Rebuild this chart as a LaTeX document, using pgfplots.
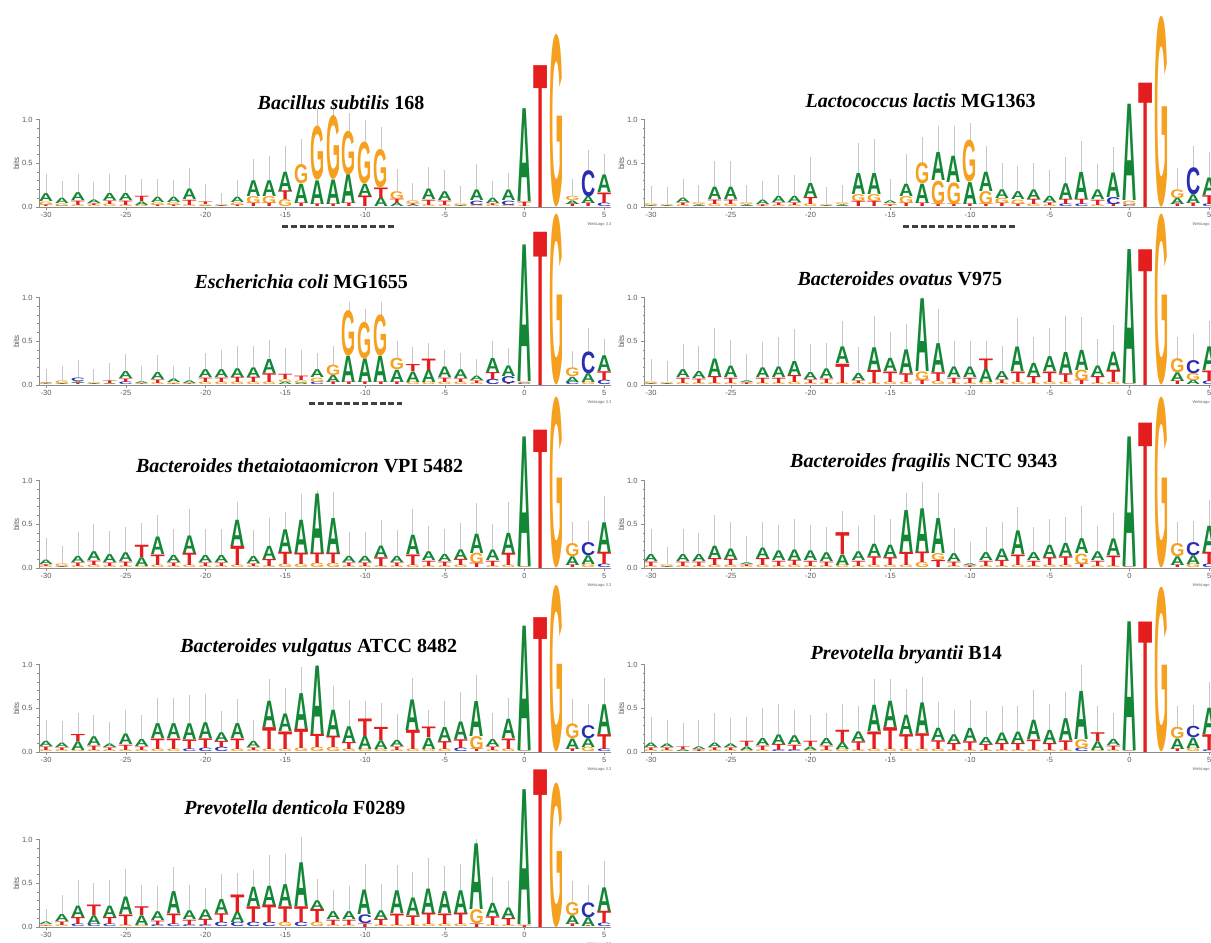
\documentclass[border=0pt]{standalone}
\usepackage{fontspec}
\setmainfont{Liberation Serif}
\setsansfont{Liberation Sans}
\newfontfamily\logofont{Liberation Sans}
\usepackage{graphicx}
\usepackage{pgfplots}
\usepackage{pgfplotstable}
\pgfplotsset{compat=1.18}
\definecolor{nucA}{RGB}{20,135,55}
\definecolor{nucC}{RGB}{40,45,180}
\definecolor{nucG}{RGB}{245,160,30}
\definecolor{nucT}{RGB}{228,30,30}
\definecolor{axgray}{RGB}{140,140,140}

\pgfdeclareplotmark{logoletter}{%
  \pgfmathsetmacro\lh{\hval*87.5}%
  \ifdim\lh pt>0.3pt\relax
    \pgftext[bottom]{\resizebox*{14.2pt}{\lh pt}{\textcolor{nuc\letval}{\logofont\bfseries\letval}}}%
  \fi}

\pgfplotsset{
  logo/.style={
    x=15.95pt, y=87.5pt, xmin=-30.44, xmax=5.4, ymin=0, ymax=1,
    anchor=south west, clip=false,
    axis lines*=left,
    axis line style={axgray, line width=0.6pt},
    xtick={-30,-25,...,5}, xticklabels={-30,-25,-20,-15,-10,-5,0,5},
    minor xtick={-30,-29,...,5},
    ytick={0,0.5,1}, yticklabels={0.0,0.5,1.0}, minor ytick={0.1,0.2,0.3,0.4,0.6,0.7,0.8,0.9},
    tick align=outside, major tick length=3pt, minor tick length=1.5pt,
    tick style={axgray, line width=0.5pt},
    tick label style={font=\sffamily\fontsize{7.5}{8}\selectfont, text=black!65},
    xticklabel style={yshift=1pt},
    ylabel={bits}, ylabel style={font=\sffamily\fontsize{8}{8}\selectfont, text=black!65, yshift=-4pt},
  },
  lay/.style={scatter, only marks, mark=logoletter, forget plot,
    point meta=explicit symbolic,
    scatter/@pre marker code/.code={\edef\letval{\pgfplotspointmeta}},
    scatter/@post marker code/.code={}},
}

\newcommand\logopanel[7]{%
\begin{axis}[logo, at={(#1pt,#2pt)}]
  \addplot[draw=none, mark=none, forget plot,
    error bars/.cd, y dir=plus, y explicit, error mark=none,
    error bar style={black!22, line width=0.8pt}]
    table[x=x, y expr=\thisrow{h1}+\thisrow{h2}+\thisrow{h3}, y error=e]{#3};
  \addplot[lay, visualization depends on={\thisrow{h1} \as \hval}]
    table[x=x, y expr=0, meta=l1]{#3};
  \addplot[lay, visualization depends on={\thisrow{h2} \as \hval}]
    table[x=x, y expr=\thisrow{h1}, meta=l2]{#3};
  \addplot[lay, visualization depends on={\thisrow{h3} \as \hval}]
    table[x=x, y expr=\thisrow{h1}+\thisrow{h2}, meta=l3]{#3};
  \node[font=\fontsize{20}{22}\selectfont\bfseries] at (axis cs:#4,#5) {#6};
  \node[font=\sffamily\fontsize{4}{4}\selectfont, text=black!60] at (axis cs:4.7,-0.2) {WebLogo 3.3};
  #7
\end{axis}}

% columns: position, bottom letter/height, middle, top, error bar length
\pgfplotstableread{
x l1 h1 l2 h2 l3 h3 e
-30 T 0.02 G 0.04 A 0.09 0.23
-29 C 0.01 G 0.03 A 0.06 0.20
-28 G 0.02 T 0.05 A 0.09 0.22
-27 G 0.02 T 0.02 A 0.04 0.20
-26 G 0.03 T 0.04 A 0.08 0.23
-25 G 0.02 T 0.05 A 0.08 0.22
-24 G 0.02 A 0.04 T 0.06 0.20
-23 T 0.02 G 0.03 A 0.06 0.21
-22 T 0.02 G 0.03 A 0.06 0.20
-21 G 0.02 T 0.06 A 0.12 0.24
-20 A 0.01 G 0.02 T 0.03 0.20
-19 A 0.01 T 0.01 G 0.01 0.13
-18 T 0.02 G 0.03 A 0.06 0.20
-17 T 0.04 G 0.08 A 0.18 0.25
-16 T 0.04 G 0.08 A 0.18 0.28
-15 G 0.08 T 0.10 A 0.22 0.30
-14 T 0.04 A 0.22 G 0.22 0.30
-13 T 0.03 A 0.27 G 0.62 0.20
-12 T 0.03 A 0.28 G 0.73 0.15
-11 T 0.04 A 0.33 G 0.50 0.20
-10 T 0.12 A 0.14 G 0.48 0.25
-9 A 0.10 T 0.12 G 0.44 0.25
-8 A 0.04 T 0.05 G 0.09 0.25
-7 A 0.02 T 0.02 G 0.03 0.20
-6 G 0.02 T 0.06 A 0.12 0.26
-5 G 0.02 T 0.05 A 0.10 0.25
-4 T 0.01 A 0.01 G 0.02 0.20
-3 G 0.02 C 0.05 A 0.12 0.30
-2 G 0.02 T 0.02 A 0.06 0.20
-1 G 0.02 C 0.05 A 0.12 0.20
0 G 0.01 T 0.05 A 1.06 0
1 A 0 G 0 T 1.62 0
2 A 0 T 0 G 1.97 0
3 T 0.03 A 0.04 G 0.05 0.20
4 T 0.04 A 0.08 C 0.30 0.23
5 C 0.04 T 0.12 A 0.20 0.25
}\bsub

\pgfplotstableread{
x l1 h1 l2 h2 l3 h3 e
-30 T 0.01 A 0.01 G 0.02 0.20
-29 T 0.01 A 0.01 G 0.01 0.20
-28 G 0.02 T 0.03 A 0.05 0.22
-27 T 0.01 A 0.02 G 0.02 0.20
-26 G 0.03 T 0.05 A 0.14 0.30
-25 G 0.03 T 0.05 A 0.14 0.30
-24 T 0.01 A 0.02 G 0.02 0.20
-23 G 0.01 T 0.02 A 0.05 0.22
-22 G 0.02 T 0.03 A 0.07 0.25
-21 G 0.02 T 0.03 A 0.07 0.25
-20 G 0.03 T 0.08 A 0.16 0.30
-19 T 0.01 A 0.01 G 0.01 0.20
-18 T 0.01 A 0.02 G 0.02 0.20
-17 T 0.06 G 0.08 A 0.24 0.35
-16 T 0.06 G 0.08 A 0.24 0.40
-15 T 0.02 G 0.02 A 0.03 0.25
-14 T 0.04 G 0.08 A 0.14 0.35
-13 T 0.04 A 0.22 G 0.24 0.30
-12 T 0.03 G 0.27 A 0.32 0.30
-11 T 0.03 G 0.25 A 0.30 0.35
-10 T 0.03 A 0.25 G 0.48 0.20
-9 T 0.03 G 0.15 A 0.22 0.30
-8 T 0.04 G 0.06 A 0.10 0.30
-7 T 0.03 G 0.05 A 0.09 0.30
-6 G 0.03 T 0.06 A 0.11 0.30
-5 G 0.02 T 0.03 A 0.07 0.30
-4 C 0.03 T 0.06 A 0.18 0.30
-3 C 0.03 T 0.06 A 0.31 0.35
-2 G 0.02 T 0.06 A 0.11 0.30
-1 T 0.03 C 0.08 A 0.28 0.30
0 C 0.02 G 0.05 A 1.10 0
1 A 0 G 0 T 1.42 0
2 A 0 T 0 G 2.18 0
3 T 0.03 A 0.07 G 0.10 0.25
4 T 0.04 A 0.10 C 0.31 0.25
5 C 0.03 T 0.10 A 0.20 0.30
}\llac

\pgfplotstableread{
x l1 h1 l2 h2 l3 h3 e
-30 T 0.01 G 0.01 A 0.01 0.15
-29 T 0.01 A 0.01 G 0.03 0.17
-28 T 0.02 A 0.02 C 0.04 0.20
-27 T 0.01 A 0.01 G 0.01 0.15
-26 G 0.01 A 0.01 T 0.03 0.20
-25 C 0.03 T 0.04 A 0.08 0.20
-24 T 0.01 G 0.01 A 0.02 0.18
-23 G 0.02 T 0.04 A 0.08 0.20
-22 T 0.01 G 0.02 A 0.04 0.15
-21 T 0.01 G 0.01 A 0.03 0.15
-20 G 0.03 T 0.05 A 0.09 0.20
-19 G 0.03 T 0.05 A 0.09 0.23
-18 G 0.03 T 0.06 A 0.10 0.25
-17 G 0.03 T 0.06 A 0.11 0.25
-16 G 0.03 T 0.10 A 0.16 0.22
-15 A 0.03 G 0.03 T 0.06 0.30
-14 A 0.02 G 0.03 T 0.05 0.30
-13 C 0.03 G 0.05 A 0.09 0.20
-12 T 0.03 A 0.08 G 0.12 0.22
-11 T 0.03 A 0.30 G 0.52 0.10
-10 T 0.03 A 0.27 G 0.42 0.15
-9 T 0.03 A 0.30 G 0.47 0.15
-8 T 0.03 A 0.14 G 0.13 0.20
-7 G 0.03 A 0.12 T 0.08 0.20
-6 G 0.03 A 0.14 T 0.13 0.18
-5 G 0.03 T 0.05 A 0.12 0.20
-4 G 0.03 T 0.04 A 0.10 0.20
-3 G 0.02 T 0.03 A 0.05 0.20
-2 C 0.06 T 0.08 A 0.16 0.20
-1 T 0.02 C 0.08 A 0.12 0.20
0 C 0.02 G 0.02 A 1.56 0
1 A 0 G 0 T 1.75 0
2 A 0 T 0 G 1.95 0
3 C 0.03 A 0.06 G 0.10 0.20
4 G 0.03 A 0.10 C 0.25 0.27
5 C 0.05 T 0.10 A 0.18 0.20
}\ecol

\pgfplotstableread{
x l1 h1 l2 h2 l3 h3 e
-30 T 0.01 A 0.01 G 0.02 0.26
-29 T 0.01 A 0.01 G 0.01 0.24
-28 G 0.02 T 0.06 A 0.09 0.30
-27 G 0.02 T 0.05 A 0.08 0.30
-26 G 0.02 T 0.08 A 0.20 0.35
-25 G 0.02 T 0.06 A 0.13 0.30
-24 G 0.01 T 0.02 A 0.02 0.30
-23 G 0.02 T 0.06 A 0.11 0.30
-22 G 0.02 T 0.06 A 0.12 0.35
-21 G 0.03 T 0.08 A 0.16 0.37
-20 G 0.02 T 0.04 A 0.08 0.33
-19 G 0.02 T 0.05 A 0.11 0.30
-18 G 0.02 T 0.22 A 0.19 0.30
-17 G 0.02 T 0.03 A 0.08 0.30
-16 G 0.02 T 0.15 A 0.26 0.36
-15 G 0.03 T 0.12 A 0.15 0.30
-14 G 0.03 T 0.10 A 0.27 0.30
-13 T 0.05 G 0.10 A 0.83 0.02
-12 G 0.04 T 0.10 A 0.33 0.40
-11 G 0.02 T 0.06 A 0.12 0.30
-10 G 0.02 T 0.06 A 0.12 0.30
-9 G 0.03 A 0.15 T 0.12 0.20
-8 G 0.02 T 0.04 A 0.09 0.30
-7 G 0.03 T 0.12 A 0.28 0.33
-6 G 0.02 T 0.08 A 0.15 0.30
-5 G 0.03 T 0.12 A 0.17 0.33
-4 G 0.03 T 0.10 A 0.24 0.42
-3 T 0.05 G 0.12 A 0.23 0.38
-2 G 0.02 T 0.08 A 0.12 0.30
-1 G 0.03 T 0.14 A 0.21 0.30
0 C 0.01 G 0.01 A 1.53 0
1 A 0 G 0 T 1.55 0
2 A 0 T 0 G 1.95 0
3 T 0.04 A 0.10 G 0.16 0.25
4 A 0.05 G 0.08 C 0.15 0.30
5 C 0.04 T 0.12 A 0.27 0.30
}\bova

\pgfplotstableread{
x l1 h1 l2 h2 l3 h3 e
-30 G 0.02 T 0.02 A 0.05 0.25
-29 T 0.01 A 0.01 G 0.03 0.20
-28 G 0.02 T 0.04 A 0.07 0.28
-27 G 0.03 T 0.05 A 0.10 0.32
-26 G 0.02 T 0.04 A 0.09 0.27
-25 G 0.02 T 0.05 A 0.10 0.30
-24 G 0.02 A 0.10 T 0.14 0.25
-23 G 0.03 T 0.12 A 0.20 0.25
-22 G 0.02 T 0.04 A 0.08 0.30
-21 G 0.03 T 0.14 A 0.20 0.30
-20 G 0.02 T 0.04 A 0.08 0.30
-19 G 0.02 T 0.04 A 0.08 0.30
-18 G 0.03 T 0.22 A 0.30 0.20
-17 G 0.02 T 0.03 A 0.08 0.30
-16 G 0.02 T 0.08 A 0.15 0.32
-15 G 0.04 T 0.14 A 0.26 0.20
-14 G 0.04 T 0.13 A 0.38 0.30
-13 G 0.05 T 0.12 A 0.68 0.03
-12 G 0.05 T 0.12 A 0.40 0.30
-11 G 0.02 T 0.04 A 0.07 0.28
-10 G 0.02 T 0.04 A 0.07 0.28
-9 G 0.02 T 0.10 A 0.13 0.30
-8 G 0.02 T 0.04 A 0.07 0.30
-7 G 0.03 T 0.12 A 0.22 0.30
-6 G 0.02 T 0.06 A 0.10 0.30
-5 G 0.02 T 0.05 A 0.08 0.30
-4 G 0.03 T 0.07 A 0.11 0.30
-3 T 0.05 G 0.12 A 0.22 0.35
-2 G 0.02 T 0.06 A 0.12 0.30
-1 G 0.03 T 0.14 A 0.23 0.35
0 C 0.01 G 0.01 A 1.48 0
1 A 0 G 0 T 1.58 0
2 A 0 T 0 G 1.95 0
3 T 0.03 A 0.10 G 0.15 0.25
4 G 0.04 A 0.10 C 0.15 0.25
5 C 0.04 T 0.14 A 0.34 0.30
}\bthe

\pgfplotstableread{
x l1 h1 l2 h2 l3 h3 e
-30 G 0.02 T 0.05 A 0.08 0.30
-29 T 0.01 A 0.01 G 0.02 0.20
-28 G 0.02 T 0.05 A 0.08 0.30
-27 G 0.02 T 0.05 A 0.08 0.25
-26 G 0.03 T 0.08 A 0.14 0.35
-25 G 0.03 T 0.07 A 0.12 0.30
-24 G 0.02 T 0.02 A 0.02 0.30
-23 G 0.03 T 0.08 A 0.12 0.30
-22 G 0.02 T 0.06 A 0.11 0.30
-21 G 0.03 T 0.06 A 0.12 0.35
-20 G 0.02 T 0.06 A 0.11 0.30
-19 G 0.02 T 0.05 A 0.10 0.30
-18 G 0.03 A 0.12 T 0.25 0.25
-17 G 0.02 T 0.06 A 0.10 0.30
-16 G 0.03 T 0.10 A 0.14 0.33
-15 G 0.03 T 0.09 A 0.14 0.30
-14 G 0.03 T 0.15 A 0.48 0.20
-13 G 0.06 T 0.12 A 0.50 0.30
-12 T 0.08 G 0.08 A 0.40 0.30
-11 G 0.02 T 0.05 A 0.09 0.30
-10 G 0.01 T 0.02 A 0.02 0.25
-9 G 0.02 T 0.06 A 0.09 0.30
-8 G 0.02 T 0.07 A 0.13 0.30
-7 G 0.03 T 0.12 A 0.27 0.28
-6 G 0.02 T 0.06 A 0.09 0.30
-5 G 0.03 T 0.09 A 0.14 0.30
-4 G 0.03 T 0.10 A 0.15 0.30
-3 T 0.04 G 0.12 A 0.17 0.38
-2 G 0.02 T 0.06 A 0.10 0.30
-1 G 0.02 T 0.12 A 0.19 0.30
0 C 0.01 G 0.01 A 1.48 0
1 A 0 G 0 T 1.66 0
2 A 0 T 0 G 1.95 0
3 T 0.03 A 0.10 G 0.15 0.25
4 G 0.04 A 0.10 C 0.15 0.25
5 C 0.04 T 0.14 A 0.30 0.30
}\bfra

\pgfplotstableread{
x l1 h1 l2 h2 l3 h3 e
-30 G 0.02 T 0.04 A 0.06 0.25
-29 G 0.02 T 0.03 A 0.05 0.25
-28 G 0.02 A 0.10 T 0.08 0.25
-27 G 0.02 T 0.05 A 0.10 0.25
-26 G 0.02 T 0.03 A 0.04 0.25
-25 G 0.02 T 0.06 A 0.12 0.28
-24 G 0.02 T 0.04 A 0.08 0.28
-23 G 0.03 T 0.12 A 0.17 0.30
-22 G 0.03 T 0.12 A 0.17 0.30
-21 C 0.03 T 0.11 A 0.18 0.33
-20 C 0.04 T 0.11 A 0.18 0.33
-19 C 0.05 T 0.07 A 0.10 0.25
-18 G 0.03 T 0.12 A 0.17 0.28
-17 G 0.02 T 0.03 A 0.07 0.25
-16 G 0.03 T 0.25 A 0.30 0.25
-15 G 0.03 T 0.20 A 0.20 0.30
-14 G 0.04 T 0.22 A 0.41 0.30
-13 G 0.05 T 0.15 A 0.78 0.01
-12 G 0.05 T 0.13 A 0.30 0.27
-11 G 0.03 T 0.08 A 0.18 0.30
-10 G 0.03 A 0.15 T 0.20 0.20
-9 G 0.03 A 0.10 T 0.15 0.28
-8 G 0.02 T 0.04 A 0.07 0.30
-7 G 0.03 T 0.22 A 0.35 0.25
-6 G 0.03 A 0.13 T 0.12 0.20
-5 G 0.03 T 0.09 A 0.16 0.30
-4 C 0.04 T 0.10 A 0.20 0.35
-3 T 0.03 G 0.15 A 0.40 0.30
-2 G 0.02 T 0.04 A 0.08 0.30
-1 G 0.03 T 0.12 A 0.22 0.25
0 C 0.01 G 0.01 A 1.42 0
1 A 0 G 0 T 1.54 0
2 A 0 T 0 G 1.90 0
3 T 0.03 A 0.12 G 0.17 0.28
4 G 0.05 A 0.10 C 0.15 0.25
5 C 0.03 T 0.17 A 0.34 0.30
}\bvul

\pgfplotstableread{
x l1 h1 l2 h2 l3 h3 e
-30 G 0.02 T 0.03 A 0.05 0.30
-29 G 0.02 T 0.03 A 0.04 0.28
-28 G 0.01 A 0.02 T 0.03 0.27
-27 G 0.01 T 0.02 A 0.03 0.30
-26 G 0.02 T 0.03 A 0.05 0.35
-25 G 0.02 T 0.03 A 0.04 0.30
-24 G 0.02 A 0.04 T 0.06 0.28
-23 G 0.02 T 0.05 A 0.08 0.35
-22 C 0.02 T 0.07 A 0.11 0.35
-21 C 0.02 T 0.06 A 0.10 0.30
-20 G 0.02 A 0.04 T 0.06 0.30
-19 G 0.02 T 0.05 A 0.08 0.30
-18 G 0.03 A 0.08 T 0.14 0.30
-17 G 0.02 T 0.10 A 0.11 0.30
-16 G 0.03 T 0.20 A 0.30 0.30
-15 G 0.03 T 0.25 A 0.30 0.25
-14 G 0.03 T 0.17 A 0.22 0.30
-13 G 0.03 T 0.18 A 0.35 0.30
-12 G 0.03 T 0.10 A 0.14 0.30
-11 G 0.02 T 0.08 A 0.10 0.28
-10 G 0.02 T 0.10 A 0.15 0.32
-9 G 0.02 T 0.07 A 0.08 0.30
-8 G 0.02 T 0.08 A 0.12 0.30
-7 G 0.02 T 0.08 A 0.13 0.30
-6 G 0.02 T 0.12 A 0.22 0.35
-5 G 0.02 T 0.08 A 0.15 0.30
-4 G 0.02 T 0.11 A 0.25 0.30
-3 C 0.04 G 0.10 A 0.55 0.30
-2 G 0.02 A 0.10 T 0.10 0.30
-1 G 0.02 T 0.05 A 0.07 0.30
0 C 0.01 G 0.01 A 1.47 0
1 A 0 G 0 T 1.49 0
2 A 0 T 0 G 1.88 0
3 T 0.03 A 0.12 G 0.13 0.25
4 G 0.04 A 0.12 C 0.13 0.25
5 C 0.02 T 0.18 A 0.30 0.30
}\pbry

\pgfplotstableread{
x l1 h1 l2 h2 l3 h3 e
-30 T 0.01 G 0.02 A 0.03 0.15
-29 G 0.02 T 0.04 A 0.08 0.23
-28 C 0.03 T 0.08 A 0.13 0.30
-27 C 0.03 A 0.10 T 0.12 0.25
-26 C 0.03 T 0.08 A 0.13 0.30
-25 G 0.02 T 0.12 A 0.20 0.32
-24 G 0.02 A 0.11 T 0.10 0.25
-23 C 0.02 T 0.05 A 0.10 0.30
-22 C 0.03 T 0.12 A 0.25 0.28
-21 C 0.02 T 0.06 A 0.10 0.30
-20 C 0.02 T 0.07 A 0.11 0.25
-19 C 0.05 T 0.10 A 0.16 0.30
-18 C 0.05 A 0.12 T 0.20 0.25
-17 C 0.05 T 0.18 A 0.22 0.20
-16 C 0.05 T 0.20 A 0.22 0.35
-15 G 0.05 T 0.18 A 0.25 0.35
-14 C 0.05 T 0.18 A 0.50 0.30
-13 G 0.05 T 0.15 A 0.10 0.25
-12 G 0.02 T 0.06 A 0.09 0.25
-11 G 0.02 T 0.06 A 0.09 0.30
-10 T 0.04 C 0.10 A 0.28 0.30
-9 G 0.02 T 0.07 A 0.10 0.30
-8 G 0.02 T 0.13 A 0.26 0.30
-7 G 0.02 T 0.11 A 0.20 0.30
-6 G 0.03 T 0.13 A 0.28 0.35
-5 G 0.03 T 0.12 A 0.25 0.30
-4 G 0.03 T 0.13 A 0.26 0.30
-3 T 0.04 G 0.16 A 0.75 0.05
-2 G 0.02 T 0.10 A 0.15 0.30
-1 G 0.02 T 0.08 A 0.12 0.30
0 T 0.02 G 0.01 A 1.54 0
1 A 0 G 0 T 1.80 0
2 A 0 T 0 G 1.65 0
3 T 0.03 A 0.10 G 0.15 0.25
4 T 0.01 A 0.10 C 0.17 0.20
5 C 0.04 T 0.14 A 0.27 0.30
}\pden

\begin{document}
\begin{tikzpicture}
\useasboundingbox (0,0) rectangle (1211pt,943pt);
\clip (0,0) rectangle (1211pt,943pt);
\tikzset{dashline/.style={black!75, line width=2.6pt, dash pattern=on 6pt off 2.8pt}}
% left column
\logopanel{39}{736}{\bsub}{-11.5}{1.19}{\textit{Bacillus subtilis} 168}
  {\draw[dashline] (axis cs:-15.2,-0.22) -- (axis cs:-8.1,-0.22);}
\logopanel{39}{558}{\ecol}{-14.0}{1.18}{\textit{Escherichia coli} MG1655}
  {\draw[dashline] (axis cs:-13.5,-0.21) -- (axis cs:-7.7,-0.21);}
\logopanel{39}{375}{\bthe}{-14.1}{1.17}{\textit{Bacteroides thetaiotaomicron} VPI 5482}{}
\logopanel{39}{191}{\bvul}{-12.9}{1.19}{\textit{Bacteroides vulgatus} ATCC 8482}{}
\logopanel{39}{16}{\pden}{-14.4}{1.36}{\textit{Prevotella denticola} F0289}{}
% right column
\logopanel{644}{736}{\llac}{-13.1}{1.21}{\textit{Lactococcus lactis} MG1363}
  {\draw[dashline] (axis cs:-14.2,-0.22) -- (axis cs:-7.2,-0.22);}
\logopanel{644}{558}{\bova}{-14.4}{1.21}{\textit{Bacteroides ovatus} V975}{}
\logopanel{644}{375}{\bfra}{-12.9}{1.20}{\textit{Bacteroides fragilis} NCTC 9343}{}
\logopanel{644}{191}{\pbry}{-14.0}{1.11}{\textit{Prevotella bryantii} B14}{}
\end{tikzpicture}
\end{document}
